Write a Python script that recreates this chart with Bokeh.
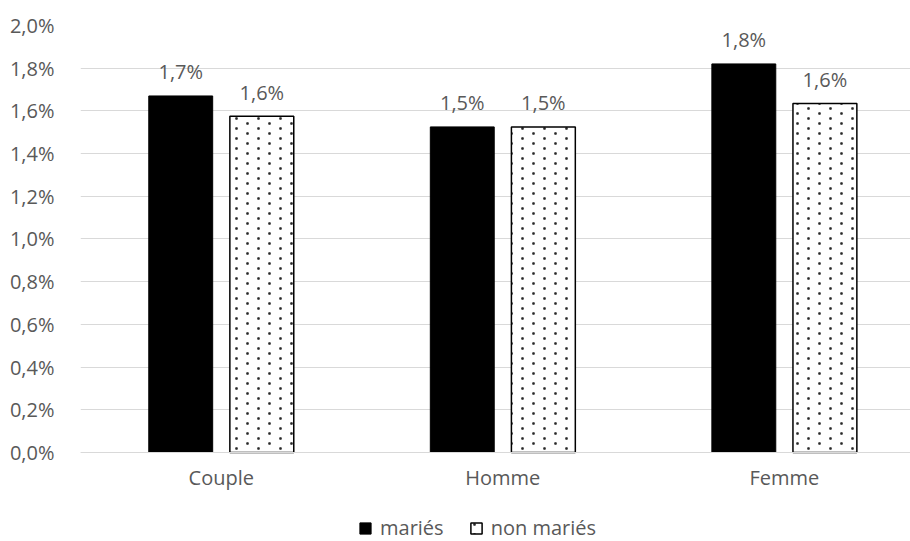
import base64
import struct
import zlib

from bokeh.plotting import figure
from bokeh.models import (ColumnDataSource, FixedTicker, CustomJSTickFormatter,
                          Legend, LegendItem, Range1d, ImageURLTexture)
from bokeh.core.properties import value
from bokeh.embed import file_html
from bokeh.resources import INLINE

# Data (percent)
categories = ["Couple", "Homme", "Femme"]
maries = [1.67, 1.525, 1.82]
non_maries = [1.575, 1.525, 1.635]
y_ticks = [0.0, 0.2, 0.4, 0.6, 0.8, 1.0, 1.2, 1.4, 1.6, 1.8, 2.0]

FONT = "Open Sans"
TXT = "#595959"
GRID = "#d9d9d9"

centers = [i + 0.5 for i in range(len(categories))]
offset = 0.144
bar_w = 0.227


def fmt(v):
    return f"{v:.1f}".replace(".", ",") + "%"


def dot_tile_png(w=22, h=20):
    """Small RGBA tile of staggered soft dots, used as a fill texture."""
    rows = [[(255, 255, 255, 0)] * w for _ in range(h)]
    shade = {0: 40, 1: 85, 2: 160}
    for cx, cy in ((5, 3), (16, 8), (5, 13), (16, 18)):
        for dx in (-1, 0, 1):
            for dy in (-1, 0, 1):
                g = shade[abs(dx) + abs(dy)]
                rows[(cy + dy) % h][(cx + dx) % w] = (g, g, g, 255)
    raw = b"".join(b"\x00" + bytes(c for px in row for c in px) for row in rows)

    def chunk(tag, data):
        return (struct.pack(">I", len(data)) + tag + data +
                struct.pack(">I", zlib.crc32(tag + data) & 0xFFFFFFFF))

    return (b"\x89PNG\r\n\x1a\n" +
            chunk(b"IHDR", struct.pack(">IIBBBBB", w, h, 8, 6, 0, 0, 0)) +
            chunk(b"IDAT", zlib.compress(raw)) + chunk(b"IEND", b""))


dots_url = "data:image/png;base64," + base64.b64encode(dot_tile_png()).decode()

src_m = ColumnDataSource(dict(x=[c - offset for c in centers], top=maries,
                              label=[fmt(v) for v in maries]))
src_n = ColumnDataSource(dict(x=[c + offset for c in centers], top=non_maries,
                              label=[fmt(v) for v in non_maries]))

# frame reaches the bottom of the page so the legend can sit under the labels
y_bottom = -0.4169
p = figure(frame_width=830, frame_height=516, output_backend="svg",
           toolbar_location=None, x_range=Range1d(0, 2.948),
           y_range=Range1d(y_bottom, 2.0), min_border_left=80,
           min_border_right=0, min_border_top=25, min_border_bottom=0)
p.outline_line_color = None
p.background_fill_color = "white"
p.border_fill_color = "white"

r_m = p.vbar(x="x", top="top", bottom=0, width=bar_w, source=src_m,
             fill_color="black", line_color="black", line_width=1)
r_n = p.vbar(x="x", top="top", bottom=0, width=bar_w, source=src_n,
             fill_color="white", line_color="black", line_width=1.5,
             hatch_pattern="v",
             hatch_extra={"v": ImageURLTexture(url=dots_url)})

for src in (src_m, src_n):
    p.text(x="x", y="top", text="label", source=src, text_align="center",
           text_baseline="alphabetic", y_offset=-24,
           text_font=value(FONT), text_font_size="20px", text_color=TXT)

# y axis
p.yaxis.ticker = FixedTicker(ticks=y_ticks)
p.yaxis.formatter = CustomJSTickFormatter(
    code="return tick.toFixed(1).replace('.', ',') + '%';")
p.yaxis.axis_line_color = None
p.yaxis.major_tick_line_color = None
p.yaxis.minor_tick_line_color = None
p.yaxis.major_label_standoff = 20
p.yaxis.major_label_text_font = FONT
p.yaxis.major_label_text_font_size = "20px"
p.yaxis.major_label_text_color = TXT

# x axis drawn at y = 0
p.xaxis.fixed_location = 0
p.xaxis.ticker = FixedTicker(ticks=centers)
p.xaxis.major_label_overrides = {c: n for c, n in zip(centers, categories)}
p.xaxis.axis_line_color = GRID
p.xaxis.axis_line_width = 1
p.xaxis.major_tick_line_color = None
p.xaxis.minor_tick_line_color = None
p.xaxis.major_label_standoff = 6
p.xaxis.major_label_text_font = FONT
p.xaxis.major_label_text_font_size = "20px"
p.xaxis.major_label_text_color = TXT

p.xgrid.grid_line_color = None
p.ygrid.ticker = FixedTicker(ticks=y_ticks)
p.ygrid.grid_line_color = GRID
p.ygrid.grid_line_width = 1

legend = Legend(items=[LegendItem(label="mariés", renderers=[r_m]),
                       LegendItem(label="non mariés", renderers=[r_n])],
                orientation="horizontal", location=(278, 0),
                glyph_width=14, glyph_height=14, label_standoff=8,
                spacing=25, padding=4, margin=0,
                border_line_color=None, background_fill_alpha=0,
                label_text_font=FONT, label_text_font_size="20px",
                label_text_color=TXT)
p.add_layout(legend)

open("out.html", "w").write(file_html(p, INLINE))
